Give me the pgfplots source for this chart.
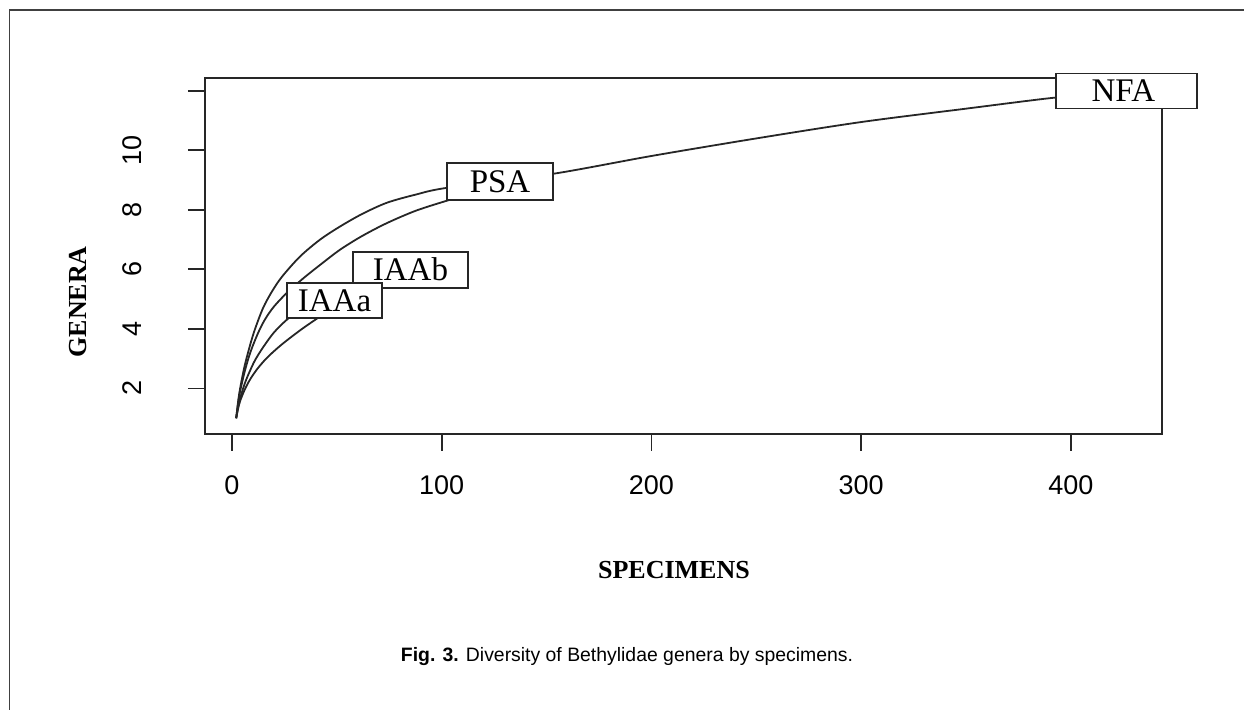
\documentclass[border=0pt]{standalone}
\usepackage{pgfplots}
\pgfplotsset{compat=1.18}
\usepackage{fontspec}
\setmainfont{Liberation Serif}
\setsansfont{Liberation Sans}
\begin{document}
\begin{tikzpicture}[x=1pt,y=1pt]
\useasboundingbox (0,0) rectangle (622,355);
\draw[black!75, line width=0.7pt] (622,350) -- (4.6,350) -- (4.6,0);
\begin{axis}[
  at={(102.5pt,138pt)}, anchor=south west,
  scale only axis, width=478.5pt, height=178pt,
  xmin=-12.87, xmax=443.4, ymin=0.47, ymax=12.43,
  xtick={0,100,200,300,400}, ytick={2,4,6,8,10,12},
  yticklabels={2,4,6,8,10,{}},
  tick align=outside, major tick length=8.5pt,
  tick style={line width=0.9pt, black!85},
  axis line style={line width=0.9pt, black!85},
  xtick pos=bottom, ytick pos=left,
  ticklabel style={font=\sffamily\fontsize{13.5}{13.5}\selectfont},
  /pgf/number format/assume math mode=true,
  yticklabel style={rotate=90, anchor=south},
  xticklabel shift=9pt, yticklabel shift=19.5pt,
  xlabel={SPECIMENS}, ylabel={GENERA},
  label style={font=\bfseries\fontsize{13}{13}\selectfont},
  xlabel style={at={(axis description cs:0.49,-0.382)}, anchor=center},
  ylabel style={at={(axis description cs:-0.133,0.371)}, anchor=center},
  clip=false,
]
% NFA
\addplot[smooth, line width=0.9pt, black!85] coordinates {
(2,1) (3,1.6) (4,2.05) (6,2.75) (8.6,3.45) (11,4.0) (14.8,4.7) (19,5.25) (23.8,5.75)
(32.4,6.43) (42,7.0) (51.5,7.44) (62,7.86) (73.9,8.24) (88,8.52) (102.5,8.74)
(153,9.21) (200,9.81) (250,10.40) (300,10.95) (350,11.40) (391,11.76) (410,11.85)};
% PSA
\addplot[smooth, line width=0.9pt, black!85] coordinates {
(2,1) (3,1.55) (4,1.95) (6,2.55) (8,3.05) (10,3.45) (13,3.95) (16,4.35) (20,4.75)
(26,5.2) (34,5.7) (42,6.15) (51.5,6.66) (62,7.12) (74,7.56) (88,7.98) (104,8.34) (110,8.45)};
% IAAb
\addplot[smooth, line width=0.9pt, black!85] coordinates {
(2,1) (3,1.4) (4,1.7) (6,2.15) (8,2.5) (11,2.95) (15,3.4) (20,3.88) (26,4.3) (35,4.8) (45,5.2) (55,5.5)};
% IAAa
\addplot[smooth, line width=0.9pt, black!85] coordinates {
(2,1) (3,1.35) (4,1.6) (6,1.95) (8.6,2.3) (12,2.65) (16,2.98) (20,3.25) (25,3.55) (33,3.98) (41,4.37) (45,4.55)};
\tikzset{lbl/.style={draw=black!85, line width=0.9pt, fill=white, inner sep=0pt, font=\fontsize{16.5}{16.5}\selectfont}}
\node[lbl, minimum width=57.5pt, minimum height=18pt] at (axis cs:85.1,5.99) {IAAb};
\node[lbl, minimum width=47.5pt, minimum height=17.5pt] at (axis cs:48.9,4.96) {IAAa};
\node[lbl, minimum width=53pt, minimum height=18.5pt] at (axis cs:127.8,8.96) {PSA};
\node[lbl, minimum width=70.5pt, minimum height=17.5pt] at (axis cs:426.4,11.99) {\hspace*{-3pt}NFA};
\end{axis}
\node[font=\sffamily\fontsize{9.7}{9.7}\selectfont] at (313.5,26.5) {\textbf{Fig. 3.} Diversity of Bethylidae genera by specimens.};
\end{tikzpicture}
\end{document}
